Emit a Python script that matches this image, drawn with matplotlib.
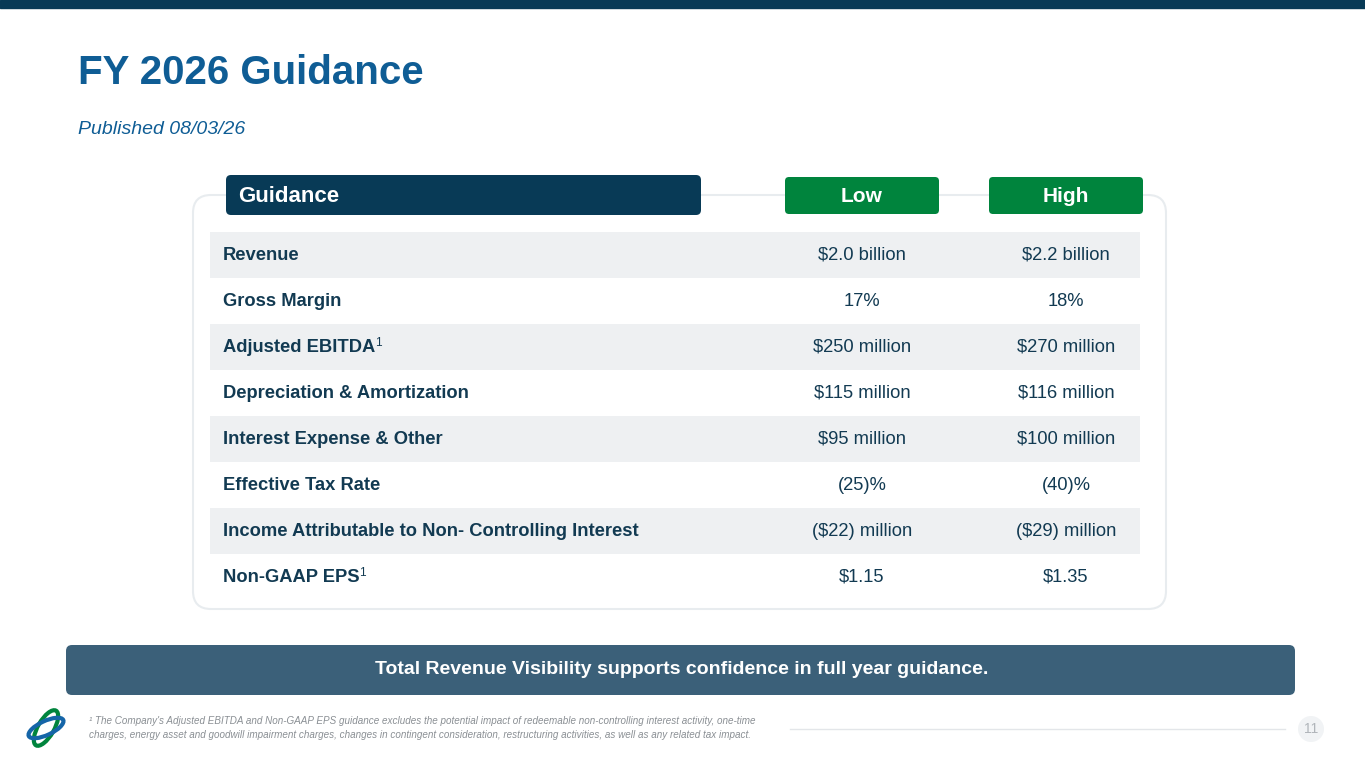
import matplotlib
matplotlib.use("Agg")
import matplotlib.pyplot as plt
from matplotlib.patches import FancyBboxPatch, Rectangle, Ellipse

plt.rcParams['font.family'] = ['Liberation Sans', 'DejaVu Sans']

metrics = ["Revenue", "Gross Margin", "Adjusted EBITDA", "Depreciation & Amortization",
           "Interest Expense & Other", "Effective Tax Rate",
           "Income Attributable to Non- Controlling Interest", "Non-GAAP EPS"]
superscripts = ["", "", "1", "", "", "", "", "1"]
low = ["$2.0 billion", "17%", "$250 million", "$115 million", "$95 million", "(25)%", "($22) million", "$1.15"]
high = ["$2.2 billion", "18%", "$270 million", "$116 million", "$100 million", "(40)%", "($29) million", "$1.35"]
headers = ["Guidance", "Low", "High"]

NAVY = "#083a56"
GREEN = "#00843d"
BLUE = "#0f5d95"
TEXT = "#123a52"

fig = plt.figure(figsize=(13.65, 7.68), dpi=100)
ax = fig.add_axes([0, 0, 1, 1])
ax.set_xlim(0, 1365); ax.set_ylim(768, 0); ax.axis('off')

ax.add_patch(Rectangle((0, 0), 1365, 8, color=NAVY))
ax.text(78, 73, "FY 2026 Guidance", fontsize=29, fontweight='bold', color=BLUE, va='center')
ax.text(78, 129, "Published 08/03/26", fontsize=14, style='italic', color=BLUE, va='center')

ax.add_patch(FancyBboxPatch((193, 195), 973, 414, boxstyle="round,pad=0,rounding_size=18",
                            fc='white', ec='#e8ecef', lw=1.5))
ax.add_patch(FancyBboxPatch((226, 175), 475, 40, boxstyle="round,pad=0,rounding_size=5", fc=NAVY, ec='none'))
ax.text(238, 196, headers[0], fontsize=16, fontweight='bold', color='white', va='center')
for x0, lab in [(785, headers[1]), (989, headers[2])]:
    ax.add_patch(FancyBboxPatch((x0, 177), 154, 37, boxstyle="round,pad=0,rounding_size=4", fc=GREEN, ec='none'))
    ax.text(x0 + 77, 196, lab, fontsize=15, fontweight='bold', color='white', va='center', ha='center')

row_h = 46
for i, (m, s, l, h) in enumerate(zip(metrics, superscripts, low, high)):
    yc = 255 + i * row_h
    if i % 2 == 0:
        ax.add_patch(Rectangle((210, yc - row_h / 2), 930, row_h, color='#eef0f2', lw=0))
    t = ax.text(223, yc, m, fontsize=13.2, fontweight='bold', color=TEXT, va='center')
    if s:
        ax.annotate(s, xycoords=t, xy=(1, 0.72), xytext=(-0.5, 0), textcoords='offset points',
                    fontsize=8.5, color=TEXT, va='center')
    ax.text(862, yc, l, fontsize=13.2, color=TEXT, va='center', ha='center')
    ax.text(1066, yc, h, fontsize=13.2, color=TEXT, va='center', ha='center')

ax.add_patch(FancyBboxPatch((66, 645), 1229, 50, boxstyle="round,pad=0,rounding_size=6", fc='#3b6079', ec='none'))
ax.text(682, 670, "Total Revenue Visibility supports confidence in full year guidance.",
        fontsize=14, fontweight='bold', color='white', va='center', ha='center')

ax.add_patch(Ellipse((46, 728), 16, 40, angle=30, fill=False, ec=GREEN, lw=3))
ax.add_patch(Ellipse((46, 728), 38, 14, angle=-25, fill=False, ec='#1565a8', lw=3))
ax.text(89, 721, "¹ The Company's Adjusted EBITDA and Non-GAAP EPS guidance excludes the potential impact of redeemable non-controlling interest activity, one-time",
        fontsize=7.1, style='italic', color='#8a8f94', va='center')
ax.text(89, 735, "charges, energy asset and goodwill impairment charges, changes in contingent consideration, restructuring activities, as well as any related tax impact.",
        fontsize=7.1, style='italic', color='#8a8f94', va='center')
ax.plot([790, 1285], [729, 729], color='#e3e6e9', lw=1)
ax.add_patch(Ellipse((1311, 729), 26, 26, fc='#f1f3f5', ec='none'))
ax.text(1311, 729, "11", fontsize=10, color='#b0b5ba', ha='center', va='center')

fig.savefig("out.png", dpi=100)
